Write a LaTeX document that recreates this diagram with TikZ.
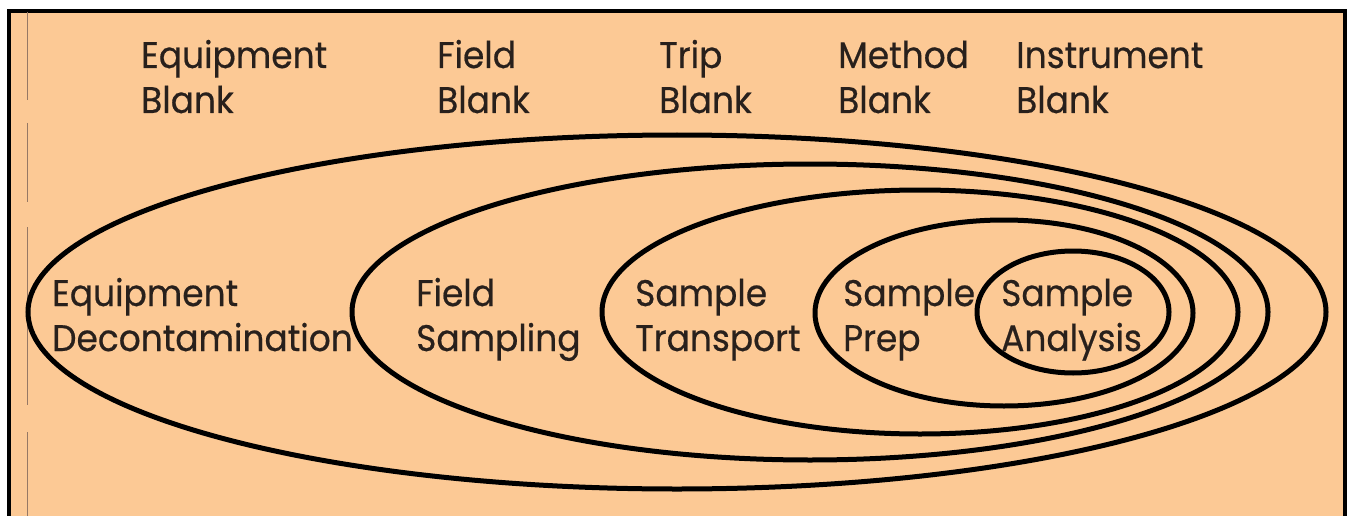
\documentclass[tikz,border=0pt]{standalone}
\usepackage{fontspec}
\setmainfont[FakeStretch=0.93,FakeBold=0.5]{Poppins}
\definecolor{peach}{RGB}{252,201,149}
\definecolor{ink}{RGB}{40,32,28}
\definecolor{scanline}{RGB}{150,120,100}
\begin{document}
\begin{tikzpicture}[x=1pt,y=-1pt,
  lbl/.style={font=\fontsize{37}{45}\selectfont, align=left, inner sep=0pt, text=ink, anchor=base west},
  ring/.style={draw=black, line width=5pt},
  frameline/.style={draw=black, line width=3.5pt},
  scan/.style={draw=scanline, line width=1.5pt}]
\useasboundingbox (0,0) rectangle (1351,516);
\fill[white] (0,0) rectangle (1351,516);
\fill[peach] (9,11) rectangle (1345,516);
% frame
\coordinate (tl) at (9,11);
\coordinate (tr) at (1345,11);
\coordinate (bl) at (9,516);
\coordinate (br) at (1345,516);
\draw[frameline] (bl) -- (tl) -- (tr) -- (br);
% scan artefact line
\draw[scan] (27.5,12) -- (27.5,100);
\draw[scan] (27.5,123) -- (27.5,202);
\draw[scan] (27.5,227) -- (27.5,405);
\draw[scan] (27.5,432) -- (27.5,516);
% nested ellipses
\draw[ring] (677,312) ellipse [x radius=649pt, y radius=177pt];
\draw[ring] (810,312) ellipse [x radius=458pt, y radius=148pt];
\draw[ring] (920,312) ellipse [x radius=318pt, y radius=122pt];
\draw[ring] (1004,313) ellipse [x radius=189pt, y radius=93pt];
\draw[ring] (1073,312) ellipse [x radius=96pt, y radius=61pt];
% top labels (anchor = baseline of last line)
\node[lbl] (eb) at (141,113) {Equipment\\Blank};
\node[lbl] (fb) at (437,113) {Field\\Blank};
\node[lbl] (tb) at (659,113) {Trip\\Blank};
\node[lbl] (mb) at (838,113) {Method\\Blank};
\node[lbl] (ib) at (1016,113) {Instrument\\Blank};
% ring labels
\node[lbl] (ed) at (52,351) {Equipment\\Decontamination};
\node[lbl] (fs) at (416,351) {Field\\Sampling};
\node[lbl] (st) at (635,351) {Sample\\Transport};
\node[lbl] (sp) at (843,351) {Sample\\Prep};
\node[lbl] (sa) at (1001,351) {Sample\\Analysis};
\end{tikzpicture}
\end{document}
